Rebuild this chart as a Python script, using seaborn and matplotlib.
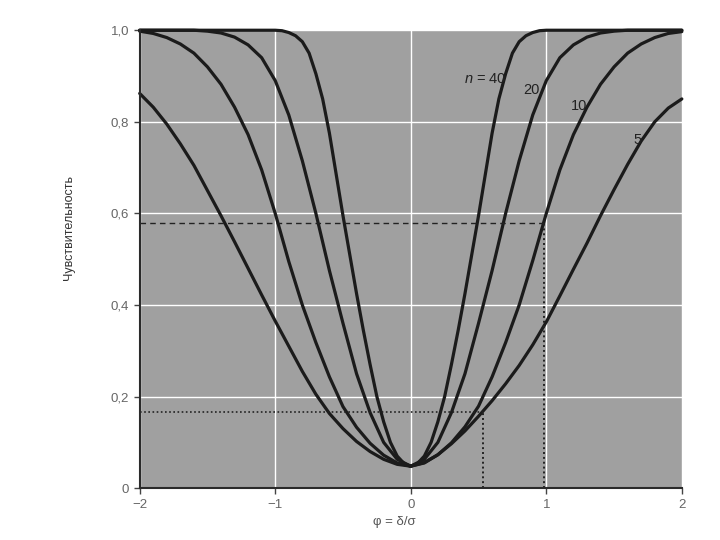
import matplotlib
matplotlib.use('Agg')
import matplotlib.pyplot as plt
import seaborn as sns
import pandas as pd

# ---- значения (левая и правая ветви) ----
n5_phi = [-2.0, -1.9, -1.8, -1.7, -1.6, -1.5, -1.4, -1.3, -1.2, -1.1, -1.0, -0.9, -0.8,
          -0.7, -0.6, -0.5, -0.4, -0.3, -0.2, -0.1, 0.0, 0.1, 0.2, 0.3, 0.4, 0.5, 0.6,
          0.7, 0.8, 0.9, 1.0, 1.1, 1.2, 1.3, 1.4, 1.5, 1.6, 1.7, 1.8, 1.9, 2.0]
n5_sens = [0.862, 0.832, 0.795, 0.752, 0.705, 0.65, 0.595, 0.538, 0.48, 0.422, 0.365,
           0.31, 0.255, 0.205, 0.163, 0.13, 0.102, 0.08, 0.063, 0.052, 0.048, 0.055,
           0.073, 0.097, 0.125, 0.157, 0.191, 0.228, 0.268, 0.313, 0.363, 0.42, 0.478,
           0.535, 0.595, 0.652, 0.707, 0.758, 0.80, 0.83, 0.85]

n10_phi = [-2.0, -1.9, -1.8, -1.7, -1.6, -1.5, -1.4, -1.3, -1.2, -1.1, -1.0, -0.9, -0.8,
           -0.7, -0.6, -0.5, -0.4, -0.3, -0.2, -0.1, 0.0, 0.1, 0.2, 0.3, 0.4, 0.5, 0.6,
           0.7, 0.8, 0.9, 1.0, 1.1, 1.2, 1.3, 1.4, 1.5, 1.6, 1.7, 1.8, 1.9, 2.0]
n10_sens = [0.998, 0.993, 0.984, 0.97, 0.95, 0.92, 0.882, 0.832, 0.772, 0.695, 0.60,
            0.495, 0.40, 0.318, 0.243, 0.178, 0.133, 0.098, 0.072, 0.055, 0.048, 0.056,
            0.073, 0.099, 0.134, 0.179, 0.243, 0.318, 0.40, 0.497, 0.60, 0.695, 0.772,
            0.832, 0.882, 0.92, 0.95, 0.97, 0.984, 0.993, 0.997]

n20_phi = [-2.0, -1.6, -1.5, -1.4, -1.3, -1.2, -1.1, -1.0, -0.9, -0.8, -0.7, -0.6, -0.5,
           -0.4, -0.3, -0.2, -0.1, 0.0, 0.1, 0.2, 0.3, 0.4, 0.5, 0.6, 0.7, 0.8, 0.9, 1.0,
           1.1, 1.2, 1.3, 1.4, 1.5, 1.6, 2.0]
n20_sens = [1.0, 1.0, 0.998, 0.994, 0.985, 0.968, 0.94, 0.89, 0.815, 0.715, 0.60, 0.475,
            0.36, 0.25, 0.165, 0.10, 0.063, 0.048, 0.063, 0.10, 0.165, 0.25, 0.36, 0.475,
            0.60, 0.715, 0.815, 0.89, 0.94, 0.968, 0.985, 0.994, 0.998, 1.0, 1.0]

n40_phi = [-2.0, -1.0, -0.95, -0.9, -0.85, -0.8, -0.75, -0.7, -0.65, -0.6, -0.55, -0.5,
           -0.45, -0.4, -0.35, -0.3, -0.25, -0.2, -0.15, -0.1, -0.05, 0.0, 0.05, 0.1,
           0.15, 0.2, 0.25, 0.3, 0.35, 0.4, 0.45, 0.5, 0.55, 0.6, 0.65, 0.7, 0.75, 0.8,
           0.85, 0.9, 0.95, 1.0, 2.0]
n40_sens = [1.0, 1.0, 0.999, 0.995, 0.988, 0.975, 0.95, 0.905, 0.85, 0.775, 0.685,
            0.595, 0.51, 0.425, 0.345, 0.27, 0.20, 0.145, 0.10, 0.07, 0.054, 0.048,
            0.054, 0.07, 0.10, 0.145, 0.20, 0.27, 0.345, 0.425, 0.51, 0.595, 0.685,
            0.775, 0.85, 0.905, 0.95, 0.975, 0.988, 0.995, 0.999, 1.0, 1.0]

curve_n = [5, 10, 20, 40]
curve_labels = ['5', '10', '20', '$\\mathit{n}$ = 40']

# опорные линии (пунктир): чувствительность и соответствующее φ
ref_sens = [0.58, 0.167]
ref_phi = [0.98, 0.53]

x_ticks = [-2, -1, 0, 1, 2]
x_ticklabels = ['\u22122', '\u22121', '0', '1', '2']
y_ticks = [0, 0.2, 0.4, 0.6, 0.8, 1.0]
y_ticklabels = ['0', '0,2', '0,4', '0,6', '0,8', '1,0']

# ---- таблица для seaborn ----
frames = []
for n, xs, ys in zip(curve_n, [n5_phi, n10_phi, n20_phi, n40_phi],
                     [n5_sens, n10_sens, n20_sens, n40_sens]):
    frames.append(pd.DataFrame({'phi': xs, 'sens': ys, 'n': n}))
df = pd.concat(frames, ignore_index=True)

sns.set_theme(style='darkgrid', rc={
    'axes.facecolor': '#a0a0a0',
    'grid.color': 'white',
    'grid.linewidth': 1.0,
})
plt.rcParams['font.family'] = ['Liberation Sans', 'DejaVu Sans']
plt.rcParams['mathtext.fontset'] = 'custom'
plt.rcParams['mathtext.it'] = 'Liberation Sans:italic'
plt.rcParams['mathtext.rm'] = 'Liberation Sans'

fig = plt.figure(figsize=(7.2, 5.4), dpi=100)
ax = fig.add_axes([0.194, 0.096, 0.753, 0.848])

sns.lineplot(data=df, x='phi', y='sens', hue='n', palette=['#1b1b1b'] * 4,
             linewidth=2.3, legend=False, estimator=None, sort=True, ax=ax)
for line in ax.lines:
    line.set_clip_on(False)
    line.set_solid_joinstyle('round')
    line.set_solid_capstyle('round')

# пунктирные линии
ax.plot([-2, ref_phi[0]], [ref_sens[0], ref_sens[0]], color='#222222', lw=1.0, ls=(0, (4, 3)))
ax.plot([ref_phi[0], ref_phi[0]], [0, ref_sens[0]], color='#222222', lw=1.4, ls=(0, (1, 1.5)))
ax.plot([-2, ref_phi[1]], [ref_sens[1], ref_sens[1]], color='#222222', lw=1.2, ls=(0, (1, 1.5)))
ax.plot([ref_phi[1], ref_phi[1]], [0, ref_sens[1]], color='#222222', lw=1.4, ls=(0, (1, 1.5)))

# подписи кривых
label_pos = [(1.64, 0.76, 'left'), (1.18, 0.835, 'left'), (0.83, 0.87, 'left'), (0.71, 0.893, 'right')]
for lab, (px, py, ha) in zip(curve_labels, label_pos):
    ax.text(px, py, lab, fontsize=10.5, color='#222222', ha=ha, va='center')

ax.set_xlim(-2, 2)
ax.set_ylim(0, 1.0)
ax.set_xticks(x_ticks)
ax.set_xticklabels(x_ticklabels)
ax.set_yticks(y_ticks)
ax.set_yticklabels(y_ticklabels)
ax.tick_params(axis='both', labelsize=9.5, labelcolor='#666666', color='#444444',
               length=4, width=1, direction='out', bottom=True, left=True)

for side in ['top', 'right']:
    ax.spines[side].set_visible(False)
for side in ['left', 'bottom']:
    ax.spines[side].set_visible(True)
    ax.spines[side].set_color('#2a2a2a')
    ax.spines[side].set_linewidth(1.5)

ax.set_xlabel('φ = δ/σ', fontsize=9.5, color='#555555')
ax.set_ylabel('Чувствительность', fontsize=9, color='#333333')
ax.yaxis.set_label_coords(-0.12, 0.57)
ax.xaxis.set_label_coords(0.47, -0.06)

fig.savefig('out.png', dpi=100)
